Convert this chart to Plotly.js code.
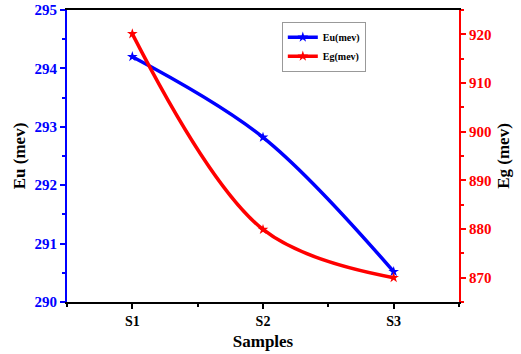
<!DOCTYPE html>
<html><head><meta charset="utf-8">
<script src="https://cdn.plot.ly/plotly-3.0.1.min.js"></script>
<style>html,body{margin:0;padding:0;background:#fff}#c{width:521px;height:354px}</style>
</head><body><div id="c"></div>
<script>
const categories = ["S1", "S2", "S3"];
const euValues = [294.2, 292.82, 290.52];
const egValues = [920.1, 879.9, 870.0];
const euTicks = [290, 291, 292, 293, 294, 295];
const egTicks = [870, 880, 890, 900, 910, 920];

const xs = categories.map((c, i) => i);
const font = "Liberation Serif";

const traces = [
  {x: xs, y: euValues, name: "Eu(mev)", type: "scatter", mode: "lines+markers",
   line: {color: "#0000ff", width: 3.5, shape: "spline", smoothing: 1},
   marker: {symbol: "star", size: 8, color: "#0000ff"}, yaxis: "y"},
  {x: xs, y: egValues, name: "Eg(mev)", type: "scatter", mode: "lines+markers",
   line: {color: "#ff0000", width: 3.5, shape: "spline", smoothing: 1},
   marker: {symbol: "star", size: 8, color: "#ff0000"}, yaxis: "y2"}
];

const layout = {
  width: 521, height: 354,
  margin: {l: 67, r: 62, t: 10, b: 52},
  paper_bgcolor: "#fff", plot_bgcolor: "#fff",
  font: {family: font, color: "#000"},
  showlegend: true,
  legend: {x: 0.548, y: 0.96, xanchor: "left", yanchor: "top",
           bgcolor: "#fff", bordercolor: "#999", borderwidth: 1,
           font: {family: font, size: 10, color: "#000", weight: "bold"},
           tracegroupgap: 0, itemwidth: 30},
  xaxis: {range: [-0.5, 2.5], tickmode: "array", tickvals: xs, ticktext: categories,
          showgrid: false, zeroline: false, showline: true, linecolor: "#000", linewidth: 2,
          mirror: true, ticks: "outside", ticklen: 5, tickwidth: 2, tickcolor: "#000",
          minor: {dtick: 0.5, tick0: 0, ticks: "outside", ticklen: 3, tickwidth: 2, tickcolor: "#000"},
          tickfont: {family: font, size: 14, color: "#000", weight: "bold"},
          title: {text: "Samples", font: {family: font, size: 17, color: "#000", weight: "bold"}, standoff: 7}},
  yaxis: {range: [290, 295], tickmode: "array", tickvals: euTicks,
          showgrid: false, zeroline: false, showline: true, linecolor: "#0000ff", linewidth: 2,
          ticks: "outside", ticklen: 5, tickwidth: 2, tickcolor: "#0000ff",
          minor: {dtick: 0.5, tick0: 290, ticks: "outside", ticklen: 3, tickwidth: 2, tickcolor: "#0000ff"},
          tickfont: {family: font, size: 15, color: "#0000ff", weight: "bold"},
          title: {text: "Eu (mev)", font: {family: font, size: 17, color: "#000", weight: "bold"}, standoff: 5}},
  yaxis2: {range: [865, 925], overlaying: "y", side: "right", tickmode: "array", tickvals: egTicks,
          showgrid: false, zeroline: false, showline: true, linecolor: "#ff0000", linewidth: 2,
          ticks: "outside", ticklen: 5, tickwidth: 2, tickcolor: "#ff0000",
          minor: {dtick: 5, tick0: 865, ticks: "outside", ticklen: 3, tickwidth: 2, tickcolor: "#ff0000"},
          tickfont: {family: font, size: 15, color: "#ff0000", weight: "bold"},
          title: {text: "Eg (mev)", font: {family: font, size: 17, color: "#000", weight: "bold"}, standoff: 7}}
};

Plotly.newPlot("c", traces, layout, {displayModeBar: false, staticPlot: true});
</script></body></html>
